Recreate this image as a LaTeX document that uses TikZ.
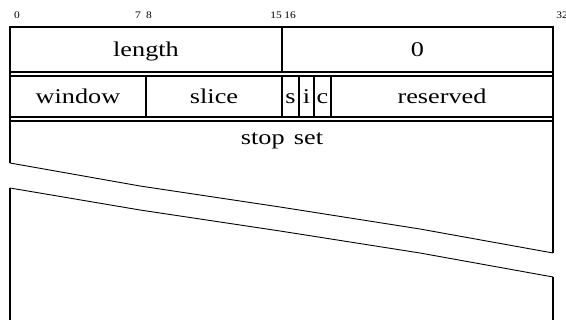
\documentclass[tikz,border=0pt]{standalone}
\usepackage{fontspec}
\usepackage{graphicx}
\setmainfont{Liberation Serif}
\newcommand{\widetext}[1]{\scalebox{1.25}[1]{#1}}
\newcommand{\widenum}[1]{\scalebox{1.15}[1]{#1}}
\begin{document}
\begin{tikzpicture}[x=1pt,y=-1pt,
  frame/.style={line width=1.8pt},
  cut/.style={line width=0.9pt},
  fieldlabel/.style={inner sep=0pt,anchor=base,font=\fontsize{21}{21}\selectfont},
  bitlabel/.style={inner sep=0pt,anchor=base,font=\fontsize{10}{10}\selectfont}]
\useasboundingbox (0,0) rectangle (566,320);
% bit numbers
\node[bitlabel] (b0) at (17,19) {\widenum{0}};
\node[bitlabel] (b7) at (138,19) {\widenum{7}};
\node[bitlabel] (b8) at (149,19) {\widenum{8}};
\node[bitlabel] (b15) at (276,19) {\widenum{15}};
\node[bitlabel] (b16) at (290,19) {\widenum{16}};
\node[bitlabel] (b32) at (562,19) {\widenum{32}};
% outer frame
\draw[frame] (10,163) -- (10,27) -- (553,27) -- (553,253);
\draw[frame] (10,188) -- (10,321);
\draw[frame] (553,277) -- (553,321);
% row separators (double)
\draw[frame] (10,72) -- (553,72);
\draw[frame] (10,76) -- (553,76);
\draw[frame] (10,117) -- (553,117);
\draw[frame] (10,121) -- (553,121);
% vertical dividers
\draw[frame] (282,27) -- (282,72);
\foreach \xx in {146,282,299,314,331} \draw[frame] (\xx,76) -- (\xx,117);
% break lines
\draw[cut] (10,163) -- (140,186) -- (280,207) -- (420,229) -- (553,253);
\draw[cut] (10,188) -- (140,210) -- (280,231) -- (420,253) -- (553,277);
% labels
\node[fieldlabel] (length) at (146,57) {\widetext{length}};
\node[fieldlabel] (zero) at (417.5,57) {\widetext{0}};
\node[fieldlabel] (window) at (78,104) {\widetext{window}};
\node[fieldlabel] (slice) at (214,104) {\widetext{slice}};
\node[fieldlabel] (s) at (290.5,104) {\widetext{s}};
\node[fieldlabel] (i) at (306.5,104) {\widetext{i}};
\node[fieldlabel] (c) at (322.5,104) {\widetext{c}};
\node[fieldlabel] (reserved) at (442,104) {\widetext{reserved}};
\node[fieldlabel] (stopset) at (282,145) {\widetext{stop\hspace{0.35em}set}};
\end{tikzpicture}
\end{document}
